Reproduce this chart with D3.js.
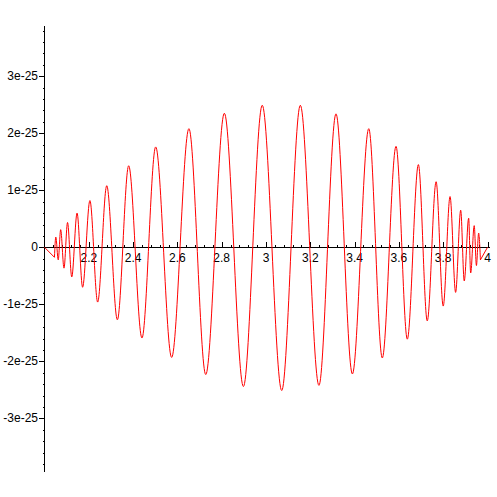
<!DOCTYPE html>
<html>
<head>
<meta charset="utf-8">
<script src="https://cdn.jsdelivr.net/npm/d3@7"></script>
<style>
  html, body { margin: 0; padding: 0; background: #fff; }
  svg { display: block; }
  text { font-family: "Liberation Sans", Arial, sans-serif; font-size: 12px; fill: #000; }
</style>
</head>
<body>
<div id="chart-area"></div>
<script>
// extrema of the red curve (y in units of 1e-25)
var curveX = [2.0, 2.045, 2.051, 2.062, 2.073, 2.088, 2.104, 2.123, 2.147, 2.172,
  2.205, 2.24, 2.281, 2.329, 2.38, 2.44, 2.502, 2.574, 2.652, 2.728,
  2.812, 2.898, 2.983, 3.071, 3.155, 3.239, 3.316, 3.39, 3.464, 3.525,
  3.587, 3.638, 3.688, 3.728, 3.768, 3.80, 3.831, 3.856, 3.879, 3.895,
  3.915, 3.924, 3.94, 3.95, 3.96, 3.968, 4.0];
var curveY = [0, -0.175, 0.18, -0.22, 0.31, -0.365, 0.435, -0.52, 0.60, -0.70,
  0.82, -0.96, 1.08, -1.27, 1.43, -1.59, 1.76, -1.93, 2.08, -2.23,
  2.35, -2.44, 2.49, -2.51, 2.49, -2.42, 2.34, -2.22, 2.08, -1.94,
  1.77, -1.61, 1.45, -1.29, 1.15, -1.03, 0.89, -0.79, 0.65, -0.59,
  0.51, -0.45, 0.38, -0.32, 0.25, -0.22, 0];

var xTickValues = [2.2, 2.4, 2.6, 2.8, 3, 3.2, 3.4, 3.6, 3.8, 4];
var xTickLabels = ['2.2', '2.4', '2.6', '2.8', '3', '3.2', '3.4', '3.6', '3.8', '4'];
var yTickValues = [-3, -2, -1, 0, 1, 2, 3];
var yTickLabels = ['-3e-25', '-2e-25', '-1e-25', '0', '1e-25', '2e-25', '3e-25'];

var width = 497;
var height = 497;

var svg = d3.select('#chart-area')
  .append('svg')
    .attr('width', width)
    .attr('height', height);

var x = d3.scaleLinear()
  .domain([2, 4])
  .range([44.5, 487.5]);

var y = d3.scaleLinear()
  .domain([-3.93, 3.88])
  .range([471.5, 26]);

// minor ticks
var xMinor = d3.range(2.04, 4.001, 0.04).filter(v => Math.abs(v * 5 - Math.round(v * 5)) > 1e-6);
var yMinor = d3.range(-3.8, 3.801, 0.2).filter(v => Math.abs(v - Math.round(v)) > 1e-6);

var ax = svg.append('g').attr('stroke', '#000').attr('stroke-width', 1)
  .attr('shape-rendering', 'crispEdges');

// y axis
ax.append('line')
  .attr('x1', x(2)).attr('x2', x(2))
  .attr('y1', y.range()[0]).attr('y2', y.range()[1]);
ax.selectAll('.ymin').data(yMinor).enter().append('line')
  .attr('x1', x(2) - 2).attr('x2', x(2))
  .attr('y1', d => Math.round(y(d)) + 0.5).attr('y2', d => Math.round(y(d)) + 0.5);
ax.selectAll('.ymaj').data(yTickValues).enter().append('line')
  .attr('x1', x(2) - 6).attr('x2', x(2))
  .attr('y1', d => Math.round(y(d)) + 0.5).attr('y2', d => Math.round(y(d)) + 0.5);

// x axis
ax.append('line')
  .attr('x1', x(2)).attr('x2', x(4) + 2)
  .attr('y1', Math.round(y(0)) + 0.5).attr('y2', Math.round(y(0)) + 0.5);
ax.selectAll('.xmin').data(xMinor).enter().append('line')
  .attr('x1', d => Math.round(x(d)) + 0.5).attr('x2', d => Math.round(x(d)) + 0.5)
  .attr('y1', Math.round(y(0)) - 2).attr('y2', Math.round(y(0)));
ax.selectAll('.xmaj').data(xTickValues).enter().append('line')
  .attr('x1', d => Math.round(x(d)) + 0.5).attr('x2', d => Math.round(x(d)) + 0.5)
  .attr('y1', Math.round(y(0)) - 5).attr('y2', Math.round(y(0)));

// tick labels
svg.selectAll('.ylab').data(yTickValues).enter().append('text')
  .attr('x', 38)
  .attr('y', d => y(d) + 4)
  .attr('text-anchor', 'end')
  .text((d, i) => yTickLabels[i]);

svg.selectAll('.xlab').data(xTickValues).enter().append('text')
  .attr('x', d => x(d))
  .attr('y', y(0) + 15)
  .attr('text-anchor', 'middle')
  .text((d, i) => xTickLabels[i]);

// the curve: smooth through the extrema, straight at the two sparse ends
var pts = curveX.map((v, i) => [v, curveY[i]]);
var n = pts.length;

var smooth = d3.line()
  .x(d => x(d[0]))
  .y(d => y(d[1]))
  .curve(d3.curveMonotoneX);

var straight = d3.line()
  .x(d => x(d[0]))
  .y(d => y(d[1]));

var curve = svg.append('g')
  .attr('fill', 'none')
  .attr('stroke', '#ff0000')
  .attr('stroke-width', 1);

curve.append('path').attr('d', smooth(pts.slice(1, n - 1)));
curve.append('path').attr('d', straight(pts.slice(0, 2)));
curve.append('path').attr('d', straight(pts.slice(n - 2)));
</script>
</body>
</html>
